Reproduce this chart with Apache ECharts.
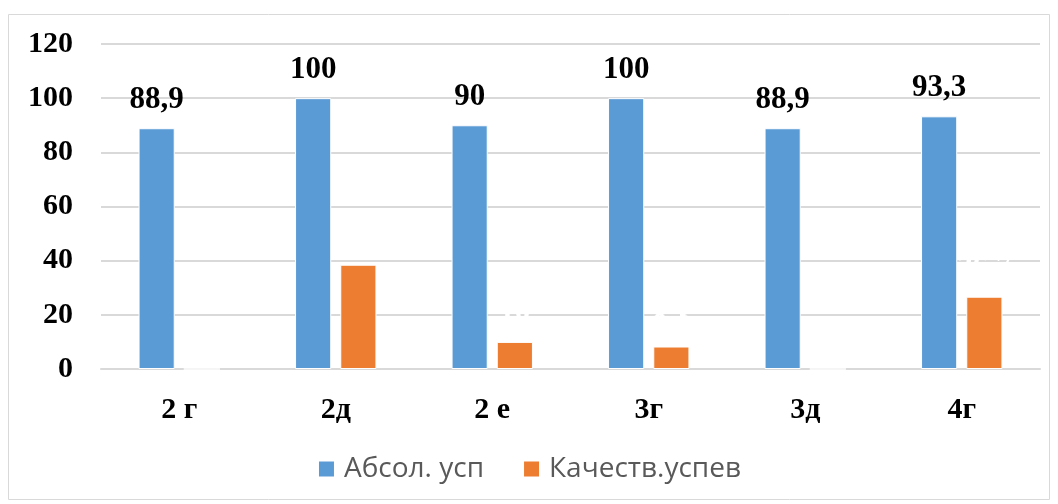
<!DOCTYPE html>
<html><head><meta charset="utf-8">
<script src="https://cdn.jsdelivr.net/npm/echarts@6/dist/echarts.min.js"></script>
<style>html,body{margin:0;padding:0;background:#fff}#c{width:1058px;height:504px}</style>
</head><body><div id="c"></div>
<script>
const categories = ['2 г', '2д', '2 е', '3г', '3д', '4г'];
const absValues = [88.9, 100, 90, 100, 88.9, 93.3];
const qualValues = [0, 38.5, 10, 8.3, 0, 26.7];
const seriesNames = ['Абсол. усп', 'Качеств.успев'];
const yTicks = { min: 0, max: 120, interval: 20 };

const fmt = p => String(p.value).replace('.', ',');
const chart = echarts.init(document.getElementById('c'));
chart.setOption({
  animation: false,
  graphic: [{ type: 'rect', shape: { x: 8.5, y: 14.5, width: 1041, height: 485 },
    style: { fill: 'none', stroke: '#d9d9d9', lineWidth: 1 } }],
  grid: { left: 101, right: 18, top: 44, bottom: 135 },
  legend: {
    top: 455, left: 'center', padding: 0, itemWidth: 17, itemHeight: 17, itemGap: 38,
    icon: 'rect',
    textStyle: { fontFamily: 'Open Sans', fontSize: 28, color: '#595959', padding: [0, 0, 0, 4] },
    data: seriesNames
  },
  xAxis: {
    type: 'category', data: categories,
    axisLine: { lineStyle: { color: '#d9d9d9', width: 2 } },
    axisTick: { show: false },
    axisLabel: { margin: 26, fontFamily: 'Liberation Serif', fontWeight: 'bold', fontSize: 30, color: '#000' }
  },
  yAxis: {
    type: 'value', min: yTicks.min, max: yTicks.max, interval: yTicks.interval,
    axisLine: { show: false }, axisTick: { show: false },
    splitLine: { lineStyle: { color: '#d9d9d9', width: 2 } },
    axisLabel: { margin: 28, fontFamily: 'Liberation Serif', fontWeight: 'bold', fontSize: 30, color: '#000' }
  },
  series: [
    { name: seriesNames[0], type: 'bar', data: absValues, barGap: '25%', barCategoryGap: '48%',
      itemStyle: { color: '#5b9bd5', borderColor: '#ffffff', borderWidth: 1 },
      label: { show: true, position: 'top', distance: 13, formatter: fmt,
        fontFamily: 'Liberation Serif', fontWeight: 'bold', fontSize: 31, color: '#000' } },
    { name: seriesNames[1], type: 'bar', data: qualValues,
      itemStyle: { color: '#ed7d31', borderColor: '#ffffff', borderWidth: 1 },
      label: { show: true, position: 'top', distance: 13, formatter: fmt,
        fontFamily: 'Liberation Serif', fontWeight: 'bold', fontSize: 31, color: '#ffffff' } }
  ]
});
</script></body></html>
